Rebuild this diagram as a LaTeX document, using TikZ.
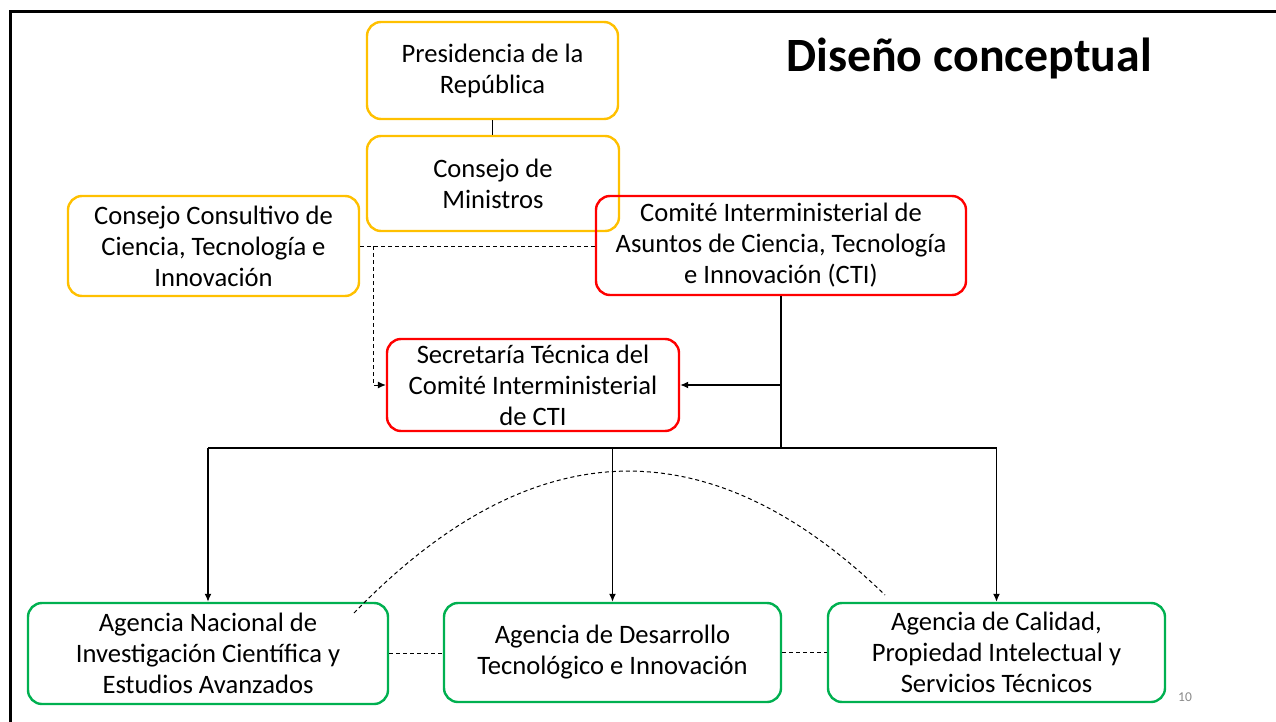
\documentclass[tikz,border=0pt]{standalone}
\usepackage{fontspec}
\setmainfont{Carlito}
\usetikzlibrary{arrows.meta}
\definecolor{boxyellow}{RGB}{255,192,0}
\definecolor{boxred}{RGB}{255,0,0}
\definecolor{boxgreen}{RGB}{0,176,80}
\definecolor{pagegray}{RGB}{137,137,137}
\begin{document}
\begin{tikzpicture}[x=1pt,y=-1pt,
  box/.style={draw, rounded corners=14pt, line width=2.4pt, align=center, inner sep=0pt,
    font=\fontsize{26.6}{31}\selectfont},
  ybox/.style={box, draw=boxyellow},
  rbox/.style={box, draw=boxred},
  gbox/.style={box, draw=boxgreen},
  thick line/.style={line width=2.3pt, black},
  thin arrow/.style={line width=1.4pt, black, -{Latex[length=8pt,width=7pt]}},
  dashline/.style={line width=1pt, black, dash pattern=on 4pt off 3pt},
  dasharrow/.style={dashline, -{Latex[length=8pt,width=7pt]}}]
\useasboundingbox (0,0) rectangle (1276,722);
% page frame
\draw[line width=2.7pt] (10.5,722) -- (10.5,11.5) -- (1276,11.5);

% title and page number
\node[font=\fontsize{47.8}{56}\selectfont\bfseries] (title) at (969,58) {Diseño conceptual};
\node[font=\fontsize{13.5}{16}\selectfont, text=pagegray] (pnum) at (1185,697) {10};

% boxes
\node[ybox, minimum width=251pt, minimum height=97pt] (pres) at (492.5,70.5) {\rule{0pt}{3pt}Presidencia de la\\República};
\node[ybox, minimum width=252pt, minimum height=95pt] (cm) at (493,183.5) {Consejo de\\Ministros};
\node[ybox, minimum width=291pt, minimum height=100pt] (cc) at (213.5,246) {Consejo Consultivo de\\Ciencia, Tecnología e\\Innovación};
\node[rbox, minimum width=370pt, minimum height=99pt] (cti) at (781,245.5) {Comité Interministerial de\\Asuntos de Ciencia, Tecnología\\e Innovación (CTI)};
\node[rbox, minimum width=292pt, minimum height=92pt] (st) at (533,385) {Secretaría Técnica del\\Comité Interministerial\\de CTI};
\node[gbox, minimum width=360pt, minimum height=101pt] (a1) at (208,653.5) {Agencia Nacional de\\Investigación Científica y\\Estudios Avanzados};
\node[gbox, minimum width=337pt, minimum height=99pt] (a2) at (612.5,652.5) {Agencia de Desarrollo\\Tecnológico e Innovación};
\node[gbox, minimum width=337pt, minimum height=99pt] (a3) at (996.5,652.5) {Agencia de Calidad,\\Propiedad Intelectual y\\Servicios Técnicos};

% connectors
\draw[line width=1.8pt] (pres.south) -- (pres.south |- cm.north);
\draw[dashline] (cc.east) -- (cc.east -| cti.west);
\coordinate (dsplit) at (373,246);
\draw[dasharrow] (dsplit) |- (st.west);

\coordinate (bus) at (781,448);
\draw[thick line] (cti.south) -- (cti.south |- bus);
\draw[thin arrow] (cti.south |- st.east) -- (st.east);
\draw[thick line] (a1.north |- bus) -- (a3.north |- bus);
\draw[thin arrow] (a1.north |- bus) -- (a1.north);
\draw[thin arrow] (a2.north |- bus) -- (a2.north);
\draw[thin arrow] (a3.north |- bus) -- (a3.north);

\draw[dashline] (a1.east) -- (a1.east -| a2.west);
\draw[dashline] (a2.east) -- (a3.west);

\coordinate (arcL) at (354,613);
\coordinate (arcR) at (885,595);
\draw[dashline] (arcL) .. controls (531,430) and (708,424) .. (arcR);
\end{tikzpicture}
\end{document}
